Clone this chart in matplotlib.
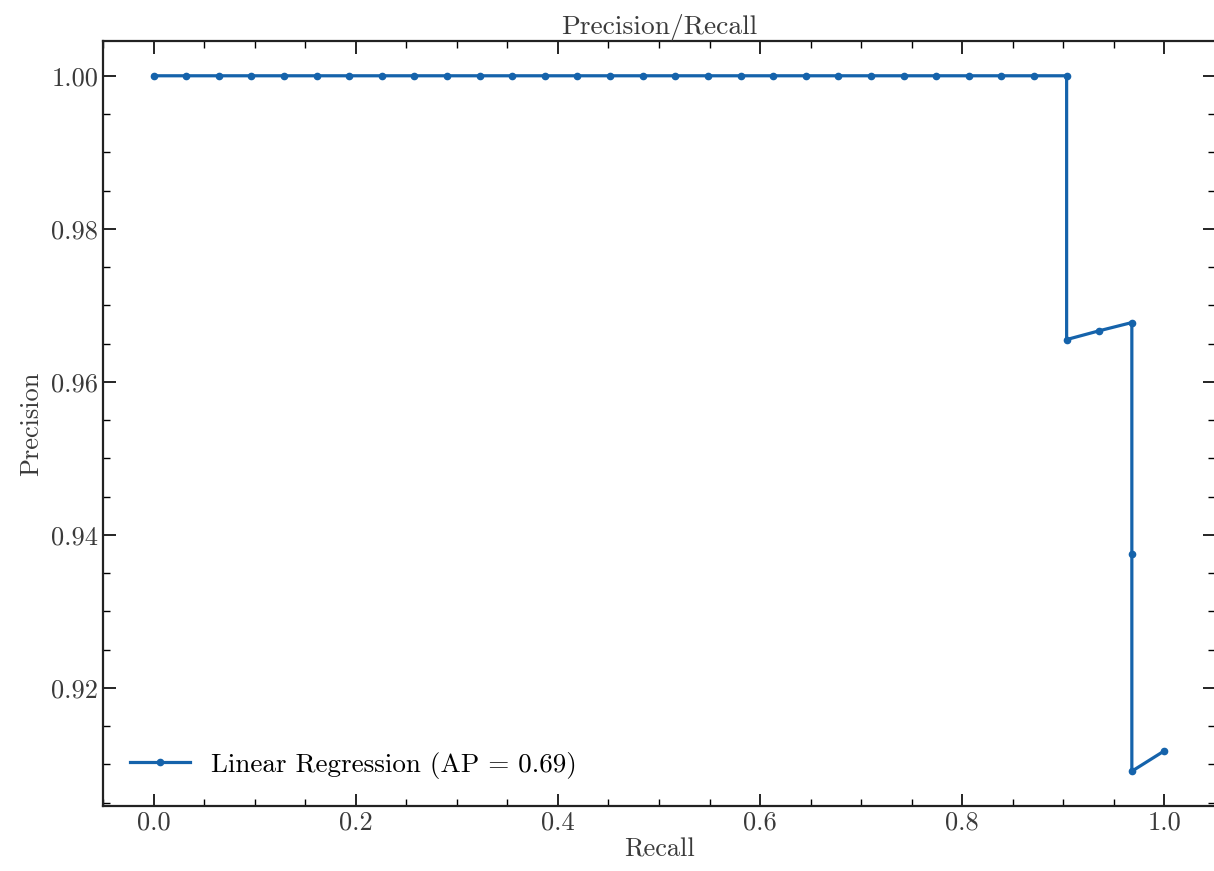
import matplotlib
matplotlib.use('Agg')
import matplotlib.pyplot as plt
from matplotlib.ticker import MultipleLocator

# precision/recall curve points
recall = [i / 31 for i in range(29)] + [28 / 31, 29 / 31, 30 / 31, 30 / 31, 30 / 31, 31 / 31]
precision = [1.0] * 29 + [28 / 29, 29 / 30, 30 / 31, 30 / 32, 30 / 33, 31 / 34]
label = 'Linear Regression (AP = 0.69)'

plt.rcParams['font.family'] = ['cmr10', 'DejaVu Serif']
plt.rcParams['mathtext.fontset'] = 'cm'
plt.rcParams['axes.formatter.use_mathtext'] = True
plt.rcParams['font.size'] = 19

fig = plt.figure(figsize=(12.14, 8.71), dpi=100)
ax = fig.add_axes([103 / 1214, 1 - 806 / 871, (1215 - 103) / 1214, (806 - 41) / 871])

ax.plot(recall, precision, marker='.', color='#1563AB', lw=2.3, ms=9, label=label)

ax.set_title('Precision/Recall', pad=5, color='#3a3a3a', fontsize=19.8)
ax.set_xlabel('Recall', labelpad=2, color='#3a3a3a')
ax.set_ylabel('Precision', labelpad=6, color='#3a3a3a')

ax.xaxis.set_major_locator(MultipleLocator(0.2))
ax.xaxis.set_minor_locator(MultipleLocator(0.05))
ax.yaxis.set_major_locator(MultipleLocator(0.02))
ax.yaxis.set_minor_locator(MultipleLocator(0.005))
ax.xaxis.set_major_formatter(plt.FormatStrFormatter('%.1f'))
ax.yaxis.set_major_formatter(plt.FormatStrFormatter('%.2f'))

ax.tick_params(which='both', direction='in', top=True, right=True, labelcolor='#3a3a3a')
ax.tick_params(which='major', length=9, width=1.2)
ax.tick_params(which='minor', length=5, width=1.0)
for s in ax.spines.values():
    s.set_linewidth(1.6)
    s.set_color('#222222')

ax.legend(loc='lower left', frameon=False, fontsize=19.5, handlelength=2.2, borderaxespad=0.6)

fig.savefig('out.png', dpi=100)
